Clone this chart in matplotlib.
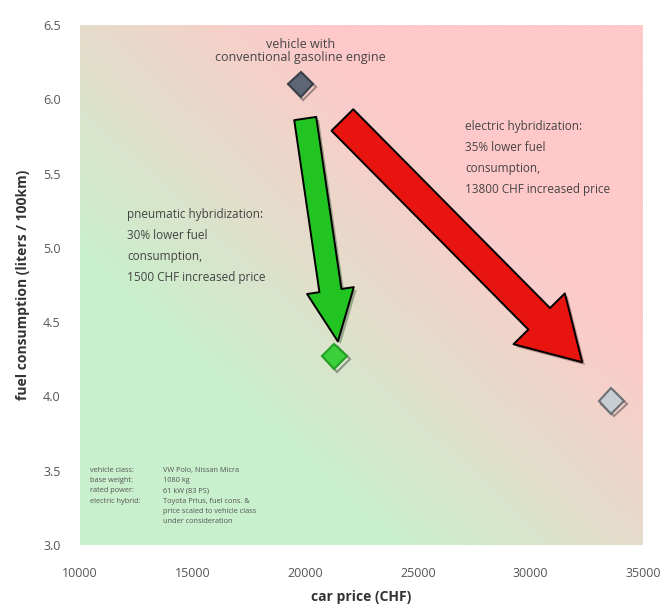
import numpy as np
import matplotlib
matplotlib.use("Agg")
import matplotlib.pyplot as plt
from matplotlib.colors import to_rgb
from matplotlib.patches import FancyArrowPatch, ArrowStyle
import matplotlib.patheffects as pe

plt.rcParams['font.family'] = ['Open Sans', 'DejaVu Sans']

# vehicles: conventional, pneumatic hybrid, electric hybrid
names = ["conventional", "pneumatic", "electric"]
price_chf = [19800, 21300, 33600]
fuel_l100 = [6.10, 4.27, 3.97]
face_colors = ["#5d6674", "#3ccf3c", "#c9ced3"]
edge_colors = ["#3a404a", "#24a024", "#6b7075"]

# arrows (tail -> head) in data units
green_arrow_x = [20000, 21450]
green_arrow_y = [5.87, 4.37]
red_arrow_x = [21650, 32300]
red_arrow_y = [5.86, 4.23]

xticks = [10000, 15000, 20000, 25000, 30000, 35000]
yticks = [3.0, 3.5, 4.0, 4.5, 5.0, 5.5, 6.0, 6.5]

fig = plt.figure(figsize=(6.67, 6.14), dpi=100)
ax = fig.add_axes([0.12, 0.1124, 0.844, 0.847])
ax.set_xlim(10000, 35000)
ax.set_ylim(3.0, 6.5)

# diagonal green-to-red background
green = np.array(to_rgb("#c9f0cc"))
pink = np.array(to_rgb("#ffc9c9"))
n = 300
u, v = np.meshgrid(np.linspace(0, 1, n), np.linspace(0, 1, n))
t = np.clip(((u + v) / 2 - 0.28) / 0.42, 0, 1)[..., None]
img = green * (1 - t) + pink * t
ax.imshow(img, extent=[10000, 35000, 3.0, 6.5], origin="lower",
          aspect="auto", zorder=0, interpolation="bilinear")

for sp in ax.spines.values():
    sp.set_visible(False)
ax.set_xticks(xticks)
ax.set_yticks(yticks)
ax.set_xticklabels([str(x) for x in xticks])
ax.set_yticklabels([f"{y:.1f}" for y in yticks])
ax.tick_params(length=0, labelsize=9, colors="#555555")
ax.tick_params(axis="x", pad=16)
ax.tick_params(axis="y", pad=14)

ax.set_xlabel("car price (CHF)", fontsize=10, fontweight="bold",
              color="#333333", labelpad=7)
ax.set_ylabel("fuel consumption (liters / 100km)", fontsize=10,
              fontweight="bold", color="#333333", labelpad=9)

shadow = [pe.SimplePatchShadow(offset=(2, -2), alpha=0.35), pe.Normal()]

def big_arrow(xs, ys, color, tail, hw, hl):
    style = ArrowStyle("Simple", tail_width=tail, head_width=hw, head_length=hl)
    a = FancyArrowPatch((xs[0], ys[0]), (xs[1], ys[1]), arrowstyle=style,
                        mutation_scale=1, facecolor=color, edgecolor="black",
                        linewidth=1.4, zorder=3, shrinkA=0, shrinkB=0)
    a.set_path_effects(shadow)
    ax.add_patch(a)

big_arrow(green_arrow_x, green_arrow_y, "#22c422", 16, 34, 37)
big_arrow(red_arrow_x, red_arrow_y, "#e8140f", 22, 52, 44)

mshadow = [pe.SimpleLineShadow(offset=(2, -2), alpha=0.35), pe.Normal()]
for x, y, fc, ec in zip(price_chf, fuel_l100, face_colors, edge_colors):
    ax.plot([x], [y], marker="D", markersize=13, markerfacecolor=fc,
            markeredgecolor=ec, markeredgewidth=1.5, linestyle="none",
            zorder=4, path_effects=mshadow)

txt = "#444444"
ax.text(price_chf[0], 6.325, "vehicle with\nconventional gasoline engine",
        ha="center", va="center", fontsize=9, color=txt, linespacing=1.0)
ax.text(12100, 5.27, "pneumatic hybridization:\n30% lower fuel\nconsumption,\n1500 CHF increased price",
        ha="left", va="top", fontsize=8.5, color=txt, linespacing=1.8)
ax.text(27100, 5.86, "electric hybridization:\n35% lower fuel\nconsumption,\n13800 CHF increased price",
        ha="left", va="top", fontsize=8.5, color=txt, linespacing=1.8)

spec_keys = ["vehicle class:", "base weight:", "rated power:", "electric hybrid:"]
spec_vals = ["VW Polo, Nissan Micra", "1080 kg", "61 kW (83 PS)",
             "Toyota Prius, fuel cons. &\nprice scaled to vehicle class\nunder consideration"]
ax.text(10450, 3.525, "\n".join(spec_keys), ha="left", va="top",
        fontsize=5.3, color="#555555", linespacing=1.65)
ax.text(13700, 3.525, "\n".join(spec_vals), ha="left", va="top",
        fontsize=5.3, color="#555555", linespacing=1.65)

fig.savefig("out.png", dpi=100)
